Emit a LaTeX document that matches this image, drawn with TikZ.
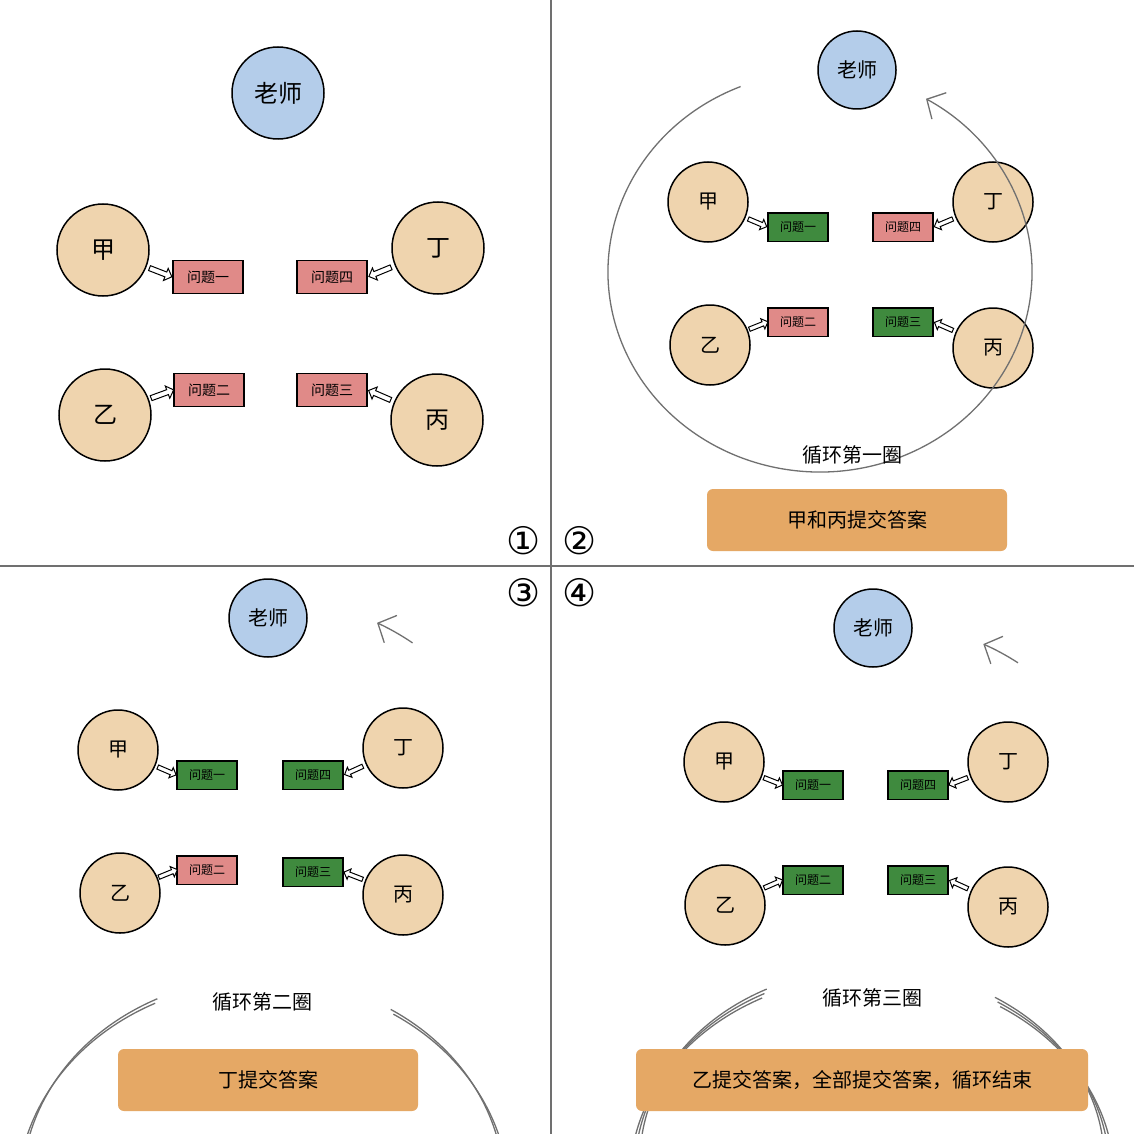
\documentclass[tikz,border=0pt]{standalone}
\usepackage{fontspec}
\newfontfamily\cjk{Noto Sans CJK SC}
\newfontfamily\dvs{DejaVu Sans}
\usetikzlibrary{arrows.meta,shapes.arrows}
\definecolor{skin}{HTML}{EFD4AE}
\definecolor{teach}{HTML}{B4CDEA}
\definecolor{qred}{HTML}{E08A88}
\definecolor{qgreen}{HTML}{3F8A3E}
\definecolor{orng}{HTML}{E5A865}
\definecolor{ln}{HTML}{707070}
\tikzset{
 person/.style={circle,draw=black,line width=1.5pt,fill=skin,minimum size=#1,inner sep=0pt,font=\cjk\fontsize{20}{20}\selectfont},
 teacher/.style={person=#1,fill=teach},
 qbox/.style={draw=black,line width=1.2pt,minimum width=#1,minimum height=#1*0.47,inner sep=0pt,font=\cjk\fontsize{12}{12}\selectfont},
 qr/.style={qbox=#1,fill=qred},
 qg/.style={qbox=#1,fill=qgreen},
 banner/.style={rounded corners=6pt,fill=orng,minimum height=62pt,inner sep=0pt,font=\cjk\fontsize{20}{20}\selectfont},
 harrow/.style={single arrow,draw=black,fill=white,line width=1pt,minimum height=24pt,minimum width=13pt,single arrow head extend=3pt,inner sep=1.5pt,sloped,allow upside down},
 loop/.style={draw=ln,line width=1.3pt},
 tipa/.style={-{Straight Barb[length=14pt,width=30pt,line width=1.3pt]}},
 lbl/.style={font=\cjk\fontsize{20}{20}\selectfont},
 num/.style={font=\dvs\fontsize{38}{38}\selectfont}
}
\begin{document}
\begin{tikzpicture}[x=1pt,y=-1pt]
\useasboundingbox[fill=white] (0,0) rectangle (1134,1134);
\draw[ln,line width=2.5pt] (551,0) -- (551,1134);
\draw[ln,line width=2.5pt] (0,566) -- (1134,566);
\node[num] (n1) at (524,541) {①};
\node[num] (n2) at (580,541) {②};
\node[num] (n3) at (524,593) {③};
\node[num] (n4) at (580,593) {④};
% ---------- panel 1
\node[teacher=92pt,font=\cjk\fontsize{24}{24}\selectfont] (t1) at (278,93) {老师};
\node[person=92pt,font=\cjk\fontsize{24}{24}\selectfont] (a1) at (103,250) {甲};
\node[person=92pt,font=\cjk\fontsize{24}{24}\selectfont] (d1) at (438,248) {丁};
\node[person=92pt,font=\cjk\fontsize{24}{24}\selectfont] (b1) at (105,415) {乙};
\node[person=92pt,font=\cjk\fontsize{24}{24}\selectfont] (c1) at (437,420) {丙};
\node[qr=70pt,font=\cjk\fontsize{14}{14}\selectfont] (qa1) at (208,277) {问题一};
\node[qr=70pt,font=\cjk\fontsize{14}{14}\selectfont] (qd1) at (332,277) {问题四};
\node[qr=70pt,font=\cjk\fontsize{14}{14}\selectfont] (qb1) at (209,390) {问题二};
\node[qr=70pt,font=\cjk\fontsize{14}{14}\selectfont] (qc1) at (332,390) {问题三};
\path (a1) -- (qa1.west) node[harrow,midway] {};
\path (d1) -- (qd1.east) node[harrow,midway] {};
\path (b1) -- (qb1.west) node[harrow,midway] {};
\path (c1) -- (qc1.east) node[harrow,midway] {};
% ---------- panel 2
\node[teacher=78pt] (t2) at (857,70) {老师};
\node[person=80pt] (a2) at (708,202) {甲};
\node[person=80pt] (d2) at (993,202) {丁};
\node[person=80pt] (b2) at (710,345) {乙};
\node[person=80pt] (c2) at (993,348) {丙};
\node[qg=60pt] (qa2) at (798,227) {问题一};
\node[qr=60pt] (qd2) at (903,227) {问题四};
\node[qr=60pt] (qb2) at (798,322) {问题二};
\node[qg=60pt] (qc2) at (903,322) {问题三};
\path (a2) -- (qa2.west) node[harrow,midway,minimum height=20pt,minimum width=11pt] {};
\path (d2) -- (qd2.east) node[harrow,midway,minimum height=20pt,minimum width=11pt] {};
\path (b2) -- (qb2.west) node[harrow,midway,minimum height=20pt,minimum width=11pt] {};
\path (c2) -- (qc2.east) node[harrow,midway,minimum height=20pt,minimum width=11pt] {};
\coordinate (o2) at (820,272);
\draw[loop,tipa] ([shift={(112:212 and -200)}]o2) arc[start angle=112,end angle=420,x radius=212,y radius=-200];
\node[lbl] (l2) at (852,455) {循环第一圈};
\node[banner,minimum width=300pt] (r2) at (857,520) {甲和丙提交答案};
% ---------- panel 3
\node[teacher=78pt] (t3) at (268,618) {老师};
\node[person=80pt] (a3) at (118,750) {甲};
\node[person=80pt] (d3) at (403,748) {丁};
\node[person=80pt] (b3) at (120,893) {乙};
\node[person=80pt] (c3) at (403,895) {丙};
\node[qg=60pt] (qa3) at (207,775) {问题一};
\node[qg=60pt] (qd3) at (313,775) {问题四};
\node[qr=60pt] (qb3) at (207,870) {问题二};
\node[qg=60pt] (qc3) at (313,872) {问题三};
\path (a3) -- (qa3.west) node[harrow,midway,minimum height=20pt,minimum width=11pt] {};
\path (d3) -- (qd3.east) node[harrow,midway,minimum height=20pt,minimum width=11pt] {};
\path (b3) -- (qb3.west) node[harrow,midway,minimum height=20pt,minimum width=11pt] {};
\path (c3) -- (qc3.east) node[harrow,midway,minimum height=20pt,minimum width=11pt] {};
\coordinate (o3) at (263,810);
\foreach \d in {0,5}{
 \pgfmathsetmacro{\rx}{241+\d}\pgfmathsetmacro{\ry}{-210-\d}
 \draw[loop] ([shift={(116:\rx pt and \ry pt)}]o3) arc[start angle=116,end angle=418,x radius=\rx,y radius=\ry];}
\draw[loop,tipa] ([shift={(412:243 and -212)}]o3) arc[start angle=412,end angle=422,x radius=243,y radius=-212];
\node[lbl] (l3) at (262,1002) {循环第二圈};
\node[banner,minimum width=300pt] (r3) at (268,1080) {丁提交答案};
% ---------- panel 4
\node[teacher=78pt] (t4) at (873,628) {老师};
\node[person=80pt] (a4) at (724,762) {甲};
\node[person=80pt] (d4) at (1008,762) {丁};
\node[person=80pt] (b4) at (725,905) {乙};
\node[person=80pt] (c4) at (1008,907) {丙};
\node[qg=60pt] (qa4) at (813,785) {问题一};
\node[qg=60pt] (qd4) at (918,785) {问题四};
\node[qg=60pt] (qb4) at (813,880) {问题二};
\node[qg=60pt] (qc4) at (918,880) {问题三};
\path (a4) -- (qa4.west) node[harrow,midway,minimum height=20pt,minimum width=11pt] {};
\path (d4) -- (qd4.east) node[harrow,midway,minimum height=20pt,minimum width=11pt] {};
\path (b4) -- (qb4.west) node[harrow,midway,minimum height=20pt,minimum width=11pt] {};
\path (c4) -- (qc4.east) node[harrow,midway,minimum height=20pt,minimum width=11pt] {};
\coordinate (o4) at (872,818);
\foreach \d in {0,5,10}{
 \pgfmathsetmacro{\rx}{232+\d}\pgfmathsetmacro{\ry}{-192-\d}
 \draw[loop] ([shift={(117:\rx pt and \ry pt)}]o4) arc[start angle=117,end angle=418,x radius=\rx,y radius=\ry];}
\draw[loop,tipa] ([shift={(412:237 and -197)}]o4) arc[start angle=412,end angle=422,x radius=237,y radius=-197];
\node[lbl] (l4) at (872,998) {循环第三圈};
\node[banner,minimum width=452pt] (r4) at (862,1080) {乙提交答案，全部提交答案，循环结束};
\end{tikzpicture}
\end{document}
